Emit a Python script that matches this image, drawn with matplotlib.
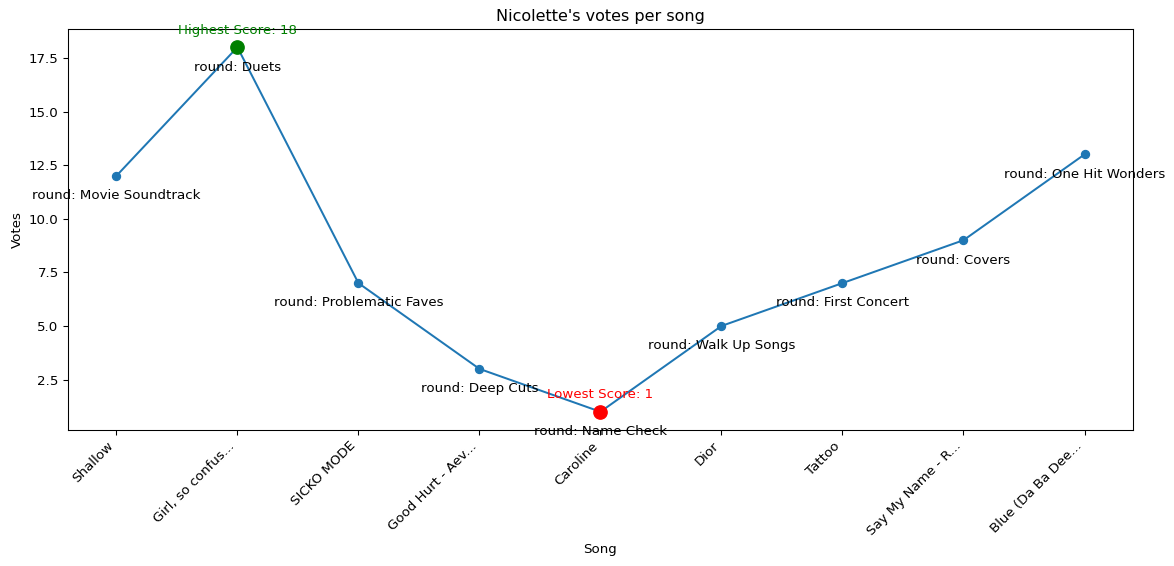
import matplotlib
matplotlib.use("Agg")
import matplotlib.pyplot as plt

songs = ["Shallow", "Girl, so confus...", "SICKO MODE", "Good Hurt - Aev...", "Caroline",
         "Dior", "Tattoo", "Say My Name - R...", "Blue (Da Ba Dee..."]
votes = [12, 18, 7, 3, 1, 5, 7, 9, 13]
rounds = ["Movie Soundtrack", "Duets", "Problematic Faves", "Deep Cuts", "Name Check",
          "Walk Up Songs", "First Concert", "Covers", "One Hit Wonders"]

DPI = 96
fig = plt.figure(figsize=(1174 / DPI, 566 / DPI), dpi=DPI)
ax = fig.add_axes([0.0579, 0.2403, 0.9071, 0.7085])

x = list(range(len(songs)))
ax.plot(x, votes, marker='o')

# round name under each point
for i, v in enumerate(votes):
    ax.annotate(f"round: {rounds[i]}", (i, v), textcoords="offset points",
                xytext=(0, -17.5), ha='center')

imax = votes.index(max(votes))
imin = votes.index(min(votes))
ax.plot(imax, votes[imax], 'go', markersize=10)
ax.annotate(f"Highest Score: {votes[imax]}", (imax, votes[imax]), textcoords="offset points",
            xytext=(0, 10), ha='center', color='green')
ax.plot(imin, votes[imin], 'ro', markersize=10)
ax.annotate(f"Lowest Score: {votes[imin]}", (imin, votes[imin]), textcoords="offset points",
            xytext=(0, 10), ha='center', color='red')

ax.set_xticks(x)
ax.set_xticklabels(songs, rotation=45, ha='right')
ax.set_xlabel("Song")
ax.set_ylabel("Votes")
ax.set_title("Nicolette's votes per song")

fig.savefig("out.png", dpi=DPI)
